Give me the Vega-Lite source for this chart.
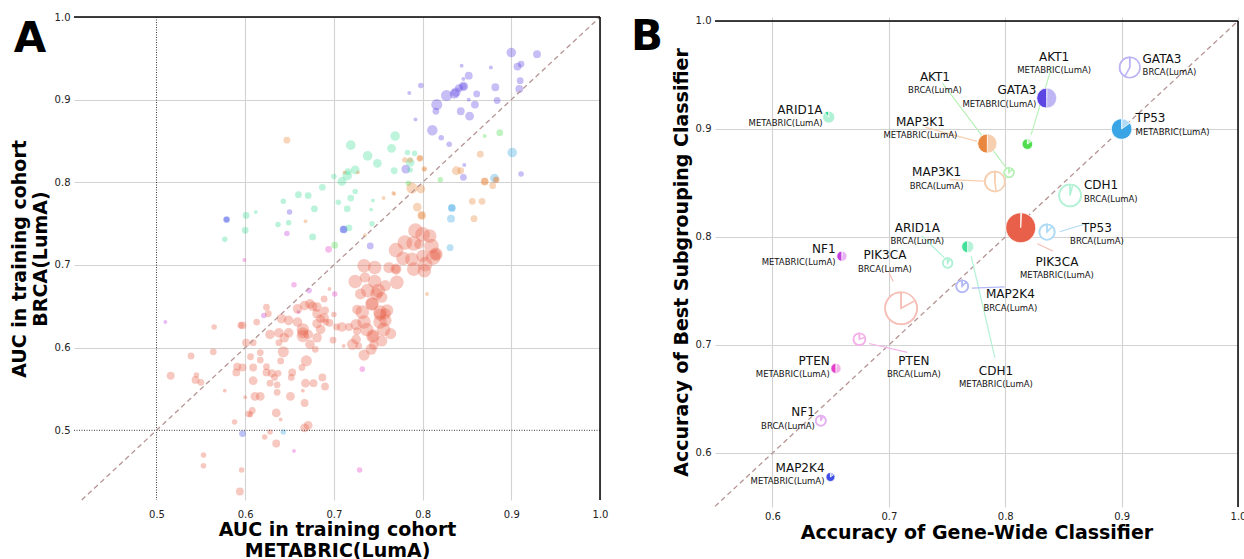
{
  "$schema": "https://vega.github.io/schema/vega-lite/v6.json",
  "padding": {"left": 10, "top": 12, "right": 0, "bottom": 0},
  "spacing": 22,
  "config": {
    "view": {"stroke": null},
    "font": "DejaVu Sans",
    "text": {"font": "DejaVu Sans"},
    "axis": {"labelFont": "DejaVu Sans", "labelFontSize": 10, "labelColor": "#222", "titleFont": "DejaVu Sans", "titleFontSize": 19, "titleFontWeight": "bold", "titleColor": "#000", "ticks": false, "domain": false, "gridColor": "#d2d2d2", "gridWidth": 1.1, "labelFlush": false, "titleLineHeight": 21}
  },
  "datasets": {
    "auc": [
      {"g":"GATA3","x":0.900,"y":0.957,"w":6},{"g":"GATA3","x":0.929,"y":0.955,"w":4},{"g":"GATA3","x":0.907,"y":0.940,"w":4},{"g":"GATA3","x":0.911,"y":0.943,"w":3},{"g":"GATA3","x":0.877,"y":0.939,"w":1},{"g":"GATA3","x":0.844,"y":0.941,"w":1},{"g":"GATA3","x":0.910,"y":0.923,"w":3},{"g":"GATA3","x":0.852,"y":0.929,"w":4},{"g":"GATA3","x":0.846,"y":0.925,"w":1},{"g":"GATA3","x":0.846,"y":0.916,"w":6},{"g":"GATA3","x":0.846,"y":0.916,"w":3},{"g":"GATA3","x":0.841,"y":0.914,"w":4},{"g":"GATA3","x":0.8375,"y":0.909,"w":6},{"g":"GATA3","x":0.827,"y":0.905,"w":8},{"g":"GATA3","x":0.836,"y":0.907,"w":6},{"g":"GATA3","x":0.798,"y":0.917,"w":2},{"g":"GATA3","x":0.785,"y":0.908,"w":1},{"g":"GATA3","x":0.882,"y":0.915,"w":4},{"g":"GATA3","x":0.861,"y":0.907,"w":3},{"g":"GATA3","x":0.909,"y":0.913,"w":4},{"g":"GATA3","x":0.884,"y":0.899,"w":3},{"g":"GATA3","x":0.852,"y":0.900,"w":1},{"g":"GATA3","x":0.816,"y":0.894,"w":8},{"g":"GATA3","x":0.859,"y":0.894,"w":4},{"g":"GATA3","x":0.815,"y":0.886,"w":3},{"g":"GATA3","x":0.843,"y":0.886,"w":4},{"g":"GATA3","x":0.853,"y":0.880,"w":5},{"g":"GATA3","x":0.792,"y":0.876,"w":1},{"g":"GATA3","x":0.811,"y":0.863,"w":7},{"g":"GATA3","x":0.821,"y":0.854,"w":2},{"g":"GATA3","x":0.830,"y":0.846,"w":2},{"g":"GATA3","x":0.781,"y":0.816,"w":5},{"g":"GATA3","x":0.847,"y":0.821,"w":1},{"g":"GATA3","x":0.846,"y":0.806,"w":3},{"g":"GATA3","x":0.911,"y":0.810,"w":2},{"g":"GATA3","x":0.741,"y":0.723,"w":3},{"g":"GATA3","x":0.650,"y":0.764,"w":2},
      {"g":"MAP2K4","x":0.579,"y":0.755,"w":3},{"g":"MAP2K4","x":0.579,"y":0.755,"w":2},{"g":"MAP2K4","x":0.711,"y":0.743,"w":4},{"g":"MAP2K4","x":0.711,"y":0.743,"w":3},{"g":"MAP2K4","x":0.597,"y":0.496,"w":3},
      {"g":"TP53","x":0.901,"y":0.836,"w":6},{"g":"TP53","x":0.881,"y":0.805,"w":5},{"g":"TP53","x":0.833,"y":0.769,"w":4},{"g":"TP53","x":0.833,"y":0.769,"w":3},{"g":"TP53","x":0.832,"y":0.756,"w":4},{"g":"TP53","x":0.831,"y":0.721,"w":3},{"g":"TP53","x":0.643,"y":0.498,"w":2},
      {"g":"CDH1","x":0.769,"y":0.856,"w":6},{"g":"CDH1","x":0.719,"y":0.845,"w":6},{"g":"CDH1","x":0.765,"y":0.841,"w":5},{"g":"CDH1","x":0.738,"y":0.832,"w":6},{"g":"CDH1","x":0.749,"y":0.823,"w":5},{"g":"CDH1","x":0.791,"y":0.835,"w":2},{"g":"CDH1","x":0.786,"y":0.824,"w":5},{"g":"CDH1","x":0.724,"y":0.815,"w":5},{"g":"CDH1","x":0.716,"y":0.813,"w":3},{"g":"CDH1","x":0.715,"y":0.808,"w":6},{"g":"CDH1","x":0.700,"y":0.807,"w":2},{"g":"CDH1","x":0.768,"y":0.814,"w":3},{"g":"CDH1","x":0.709,"y":0.801,"w":5},{"g":"CDH1","x":0.687,"y":0.794,"w":3},{"g":"CDH1","x":0.705,"y":0.776,"w":2},{"g":"CDH1","x":0.724,"y":0.789,"w":2},{"g":"CDH1","x":0.719,"y":0.781,"w":3},{"g":"CDH1","x":0.744,"y":0.778,"w":1},{"g":"CDH1","x":0.715,"y":0.768,"w":3},{"g":"CDH1","x":0.742,"y":0.767,"w":1},{"g":"CDH1","x":0.743,"y":0.750,"w":2},{"g":"CDH1","x":0.717,"y":0.745,"w":3},{"g":"CDH1","x":0.783,"y":0.836,"w":2},{"g":"CDH1","x":0.786,"y":0.815,"w":2},
      {"g":"ARID1A","x":0.660,"y":0.785,"w":3},{"g":"ARID1A","x":0.671,"y":0.784,"w":3},{"g":"ARID1A","x":0.643,"y":0.777,"w":2},{"g":"ARID1A","x":0.678,"y":0.768,"w":3},{"g":"ARID1A","x":0.601,"y":0.760,"w":3},{"g":"ARID1A","x":0.612,"y":0.764,"w":1},{"g":"ARID1A","x":0.637,"y":0.749,"w":2},{"g":"ARID1A","x":0.649,"y":0.751,"w":2},{"g":"ARID1A","x":0.600,"y":0.742,"w":3},{"g":"ARID1A","x":0.676,"y":0.734,"w":3},{"g":"ARID1A","x":0.577,"y":0.731,"w":2},
      {"g":"AKT1","x":0.887,"y":0.860,"w":3},{"g":"AKT1","x":0.870,"y":0.856,"w":1},{"g":"AKT1","x":0.820,"y":0.803,"w":2},{"g":"AKT1","x":0.701,"y":0.724,"w":3},{"g":"AKT1","x":0.784,"y":0.799,"w":2},
      {"g":"MAP3K1","x":0.647,"y":0.851,"w":3},{"g":"MAP3K1","x":0.797,"y":0.829,"w":3},{"g":"MAP3K1","x":0.797,"y":0.829,"w":2},{"g":"MAP3K1","x":0.802,"y":0.816,"w":2},{"g":"MAP3K1","x":0.802,"y":0.816,"w":1},{"g":"MAP3K1","x":0.712,"y":0.812,"w":1},{"g":"MAP3K1","x":0.727,"y":0.812,"w":1},{"g":"MAP3K1","x":0.780,"y":0.827,"w":2},{"g":"MAP3K1","x":0.786,"y":0.827,"w":2},{"g":"MAP3K1","x":0.788,"y":0.793,"w":8},{"g":"MAP3K1","x":0.798,"y":0.792,"w":5},{"g":"MAP3K1","x":0.767,"y":0.787,"w":1},{"g":"MAP3K1","x":0.756,"y":0.781,"w":1},{"g":"MAP3K1","x":0.794,"y":0.770,"w":5},{"g":"MAP3K1","x":0.799,"y":0.760,"w":5},{"g":"MAP3K1","x":0.799,"y":0.760,"w":3},{"g":"MAP3K1","x":0.865,"y":0.834,"w":3},{"g":"MAP3K1","x":0.838,"y":0.814,"w":5},{"g":"MAP3K1","x":0.843,"y":0.814,"w":3},{"g":"MAP3K1","x":0.870,"y":0.801,"w":4},{"g":"MAP3K1","x":0.870,"y":0.801,"w":3},{"g":"MAP3K1","x":0.883,"y":0.803,"w":3},{"g":"MAP3K1","x":0.883,"y":0.803,"w":2},{"g":"MAP3K1","x":0.879,"y":0.796,"w":3},{"g":"MAP3K1","x":0.856,"y":0.777,"w":3},{"g":"MAP3K1","x":0.867,"y":0.777,"w":3},{"g":"MAP3K1","x":0.858,"y":0.756,"w":3},{"g":"MAP3K1","x":0.668,"y":0.753,"w":1},{"g":"MAP3K1","x":0.735,"y":0.736,"w":1},{"g":"MAP3K1","x":0.805,"y":0.665,"w":1},{"g":"MAP3K1","x":0.768,"y":0.786,"w":1},
      {"g":"PTEN","x":0.694,"y":0.719,"w":3},{"g":"PTEN","x":0.599,"y":0.706,"w":1},{"g":"PTEN","x":0.655,"y":0.676,"w":2},{"g":"PTEN","x":0.701,"y":0.665,"w":2},{"g":"PTEN","x":0.732,"y":0.574,"w":2},{"g":"PTEN","x":0.655,"y":0.475,"w":1},{"g":"PTEN","x":0.729,"y":0.452,"w":2},
      {"g":"NF1","x":0.647,"y":0.738,"w":2},{"g":"NF1","x":0.510,"y":0.631,"w":1},{"g":"NF1","x":0.660,"y":0.643,"w":1},{"g":"NF1","x":0.672,"y":0.669,"w":2},{"g":"NF1","x":0.621,"y":0.639,"w":2},
      {"g":"PIK3CA","x":0.792,"y":0.7415,"w":14},{"g":"PIK3CA","x":0.800,"y":0.737,"w":14},{"g":"PIK3CA","x":0.808,"y":0.735,"w":12},{"g":"PIK3CA","x":0.780,"y":0.727,"w":14},{"g":"PIK3CA","x":0.790,"y":0.726,"w":14},{"g":"PIK3CA","x":0.810,"y":0.723,"w":14},{"g":"PIK3CA","x":0.815,"y":0.713,"w":12},{"g":"PIK3CA","x":0.815,"y":0.713,"w":8},{"g":"PIK3CA","x":0.812,"y":0.709,"w":14},{"g":"PIK3CA","x":0.770,"y":0.718,"w":14},{"g":"PIK3CA","x":0.778,"y":0.708,"w":12},{"g":"PIK3CA","x":0.788,"y":0.707,"w":12},{"g":"PIK3CA","x":0.803,"y":0.701,"w":14},{"g":"PIK3CA","x":0.800,"y":0.711,"w":10},{"g":"PIK3CA","x":0.796,"y":0.725,"w":6},{"g":"PIK3CA","x":0.734,"y":0.699,"w":12},{"g":"PIK3CA","x":0.746,"y":0.697,"w":12},{"g":"PIK3CA","x":0.762,"y":0.697,"w":8},{"g":"PIK3CA","x":0.770,"y":0.695,"w":8},{"g":"PIK3CA","x":0.770,"y":0.695,"w":5},{"g":"PIK3CA","x":0.790,"y":0.695,"w":12},{"g":"PIK3CA","x":0.802,"y":0.693,"w":12},{"g":"PIK3CA","x":0.724,"y":0.680,"w":12},{"g":"PIK3CA","x":0.735,"y":0.685,"w":7},{"g":"PIK3CA","x":0.746,"y":0.680,"w":12},{"g":"PIK3CA","x":0.758,"y":0.675,"w":8},{"g":"PIK3CA","x":0.771,"y":0.679,"w":12},{"g":"PIK3CA","x":0.738,"y":0.669,"w":12},{"g":"PIK3CA","x":0.750,"y":0.669,"w":12},{"g":"PIK3CA","x":0.730,"y":0.665,"w":8},{"g":"PIK3CA","x":0.743,"y":0.653,"w":12},{"g":"PIK3CA","x":0.743,"y":0.653,"w":10},{"g":"PIK3CA","x":0.754,"y":0.661,"w":8},{"g":"PIK3CA","x":0.732,"y":0.643,"w":12},{"g":"PIK3CA","x":0.752,"y":0.643,"w":12},{"g":"PIK3CA","x":0.752,"y":0.640,"w":10},{"g":"PIK3CA","x":0.758,"y":0.641,"w":8},{"g":"PIK3CA","x":0.734,"y":0.631,"w":12},{"g":"PIK3CA","x":0.752,"y":0.631,"w":12},{"g":"PIK3CA","x":0.737,"y":0.622,"w":12},{"g":"PIK3CA","x":0.756,"y":0.622,"w":12},{"g":"PIK3CA","x":0.764,"y":0.617,"w":8},{"g":"PIK3CA","x":0.744,"y":0.614,"w":12},{"g":"PIK3CA","x":0.744,"y":0.614,"w":8},{"g":"PIK3CA","x":0.754,"y":0.608,"w":8},{"g":"PIK3CA","x":0.742,"y":0.598,"w":8},{"g":"PIK3CA","x":0.734,"y":0.591,"w":8},{"g":"PIK3CA","x":0.721,"y":0.604,"w":8},{"g":"PIK3CA","x":0.728,"y":0.602,"w":3},{"g":"PIK3CA","x":0.711,"y":0.602,"w":1},{"g":"PIK3CA","x":0.709,"y":0.625,"w":6},{"g":"PIK3CA","x":0.703,"y":0.625,"w":3},{"g":"PIK3CA","x":0.699,"y":0.609,"w":3},{"g":"PIK3CA","x":0.695,"y":0.671,"w":1},{"g":"PIK3CA","x":0.689,"y":0.659,"w":3},{"g":"PIK3CA","x":0.681,"y":0.649,"w":6},{"g":"PIK3CA","x":0.681,"y":0.641,"w":6},{"g":"PIK3CA","x":0.689,"y":0.636,"w":6},{"g":"PIK3CA","x":0.691,"y":0.631,"w":3},{"g":"PIK3CA","x":0.681,"y":0.629,"w":6},{"g":"PIK3CA","x":0.685,"y":0.622,"w":6},{"g":"PIK3CA","x":0.673,"y":0.653,"w":6},{"g":"PIK3CA","x":0.667,"y":0.651,"w":6},{"g":"PIK3CA","x":0.659,"y":0.647,"w":6},{"g":"PIK3CA","x":0.659,"y":0.631,"w":6},{"g":"PIK3CA","x":0.665,"y":0.622,"w":10},{"g":"PIK3CA","x":0.665,"y":0.618,"w":8},{"g":"PIK3CA","x":0.665,"y":0.614,"w":10},{"g":"PIK3CA","x":0.671,"y":0.616,"w":6},{"g":"PIK3CA","x":0.681,"y":0.612,"w":6},{"g":"PIK3CA","x":0.673,"y":0.604,"w":6},{"g":"PIK3CA","x":0.679,"y":0.598,"w":3},{"g":"PIK3CA","x":0.649,"y":0.618,"w":6},{"g":"PIK3CA","x":0.649,"y":0.633,"w":6},{"g":"PIK3CA","x":0.641,"y":0.635,"w":6},{"g":"PIK3CA","x":0.638,"y":0.618,"w":6},{"g":"PIK3CA","x":0.644,"y":0.612,"w":6},{"g":"PIK3CA","x":0.638,"y":0.606,"w":3},{"g":"PIK3CA","x":0.628,"y":0.616,"w":6},{"g":"PIK3CA","x":0.624,"y":0.649,"w":3},{"g":"PIK3CA","x":0.626,"y":0.641,"w":3},{"g":"PIK3CA","x":0.613,"y":0.631,"w":3},{"g":"PIK3CA","x":0.595,"y":0.627,"w":3},{"g":"PIK3CA","x":0.597,"y":0.627,"w":4},{"g":"PIK3CA","x":0.565,"y":0.625,"w":2},{"g":"PIK3CA","x":0.601,"y":0.606,"w":4},{"g":"PIK3CA","x":0.609,"y":0.606,"w":3},{"g":"PIK3CA","x":0.617,"y":0.594,"w":3},{"g":"PIK3CA","x":0.643,"y":0.595,"w":8},{"g":"PIK3CA","x":0.617,"y":0.585,"w":3},{"g":"PIK3CA","x":0.606,"y":0.589,"w":3},{"g":"PIK3CA","x":0.640,"y":0.584,"w":3},{"g":"PIK3CA","x":0.669,"y":0.584,"w":8},{"g":"PIK3CA","x":0.664,"y":0.576,"w":3},{"g":"PIK3CA","x":0.591,"y":0.577,"w":4},{"g":"PIK3CA","x":0.597,"y":0.576,"w":4},{"g":"PIK3CA","x":0.609,"y":0.576,"w":4},{"g":"PIK3CA","x":0.624,"y":0.577,"w":3},{"g":"PIK3CA","x":0.590,"y":0.570,"w":4},{"g":"PIK3CA","x":0.624,"y":0.570,"w":4},{"g":"PIK3CA","x":0.630,"y":0.569,"w":4},{"g":"PIK3CA","x":0.637,"y":0.569,"w":3},{"g":"PIK3CA","x":0.633,"y":0.564,"w":3},{"g":"PIK3CA","x":0.653,"y":0.570,"w":4},{"g":"PIK3CA","x":0.652,"y":0.564,"w":3},{"g":"PIK3CA","x":0.609,"y":0.560,"w":5},{"g":"PIK3CA","x":0.636,"y":0.555,"w":3},{"g":"PIK3CA","x":0.628,"y":0.557,"w":3},{"g":"PIK3CA","x":0.668,"y":0.557,"w":5},{"g":"PIK3CA","x":0.677,"y":0.557,"w":4},{"g":"PIK3CA","x":0.687,"y":0.564,"w":4},{"g":"PIK3CA","x":0.690,"y":0.553,"w":4},{"g":"PIK3CA","x":0.665,"y":0.548,"w":1},{"g":"PIK3CA","x":0.636,"y":0.546,"w":3},{"g":"PIK3CA","x":0.651,"y":0.541,"w":5},{"g":"PIK3CA","x":0.611,"y":0.541,"w":5},{"g":"PIK3CA","x":0.617,"y":0.541,"w":5},{"g":"PIK3CA","x":0.600,"y":0.540,"w":1},{"g":"PIK3CA","x":0.577,"y":0.548,"w":1},{"g":"PIK3CA","x":0.667,"y":0.533,"w":4},{"g":"PIK3CA","x":0.608,"y":0.524,"w":3},{"g":"PIK3CA","x":0.604,"y":0.520,"w":3},{"g":"PIK3CA","x":0.606,"y":0.519,"w":2},{"g":"PIK3CA","x":0.635,"y":0.521,"w":5},{"g":"PIK3CA","x":0.640,"y":0.513,"w":1},{"g":"PIK3CA","x":0.588,"y":0.510,"w":2},{"g":"PIK3CA","x":0.671,"y":0.506,"w":5},{"g":"PIK3CA","x":0.667,"y":0.503,"w":5},{"g":"PIK3CA","x":0.628,"y":0.498,"w":2},{"g":"PIK3CA","x":0.622,"y":0.492,"w":2},{"g":"PIK3CA","x":0.635,"y":0.484,"w":4},{"g":"PIK3CA","x":0.553,"y":0.470,"w":2},{"g":"PIK3CA","x":0.553,"y":0.457,"w":2},{"g":"PIK3CA","x":0.596,"y":0.452,"w":2},{"g":"PIK3CA","x":0.594,"y":0.426,"w":4},{"g":"PIK3CA","x":0.516,"y":0.566,"w":4},{"g":"PIK3CA","x":0.539,"y":0.590,"w":3},{"g":"PIK3CA","x":0.545,"y":0.567,"w":2},{"g":"PIK3CA","x":0.544,"y":0.561,"w":4},{"g":"PIK3CA","x":0.550,"y":0.558,"w":3},{"g":"PIK3CA","x":0.564,"y":0.595,"w":3},{"g":"PIK3CA","x":0.717,"y":0.625,"w":4},{"g":"PIK3CA","x":0.726,"y":0.620,"w":4},{"g":"PIK3CA","x":0.695,"y":0.630,"w":4},{"g":"PIK3CA","x":0.700,"y":0.640,"w":2},{"g":"PIK3CA","x":0.676,"y":0.650,"w":6},{"g":"PIK3CA","x":0.690,"y":0.645,"w":4},{"g":"PIK3CA","x":0.685,"y":0.635,"w":5},{"g":"PIK3CA","x":0.758,"y":0.633,"w":10},{"g":"PIK3CA","x":0.760,"y":0.645,"w":10},{"g":"PIK3CA","x":0.748,"y":0.665,"w":10},{"g":"PIK3CA","x":0.725,"y":0.628,"w":8},{"g":"PIK3CA","x":0.726,"y":0.646,"w":6},{"g":"PIK3CA","x":0.745,"y":0.603,"w":6},{"g":"PIK3CA","x":0.725,"y":0.610,"w":6}
    ],
    "best": [
      {"g":"GATA3","c":"BRCA(LumA)","x":0.907,"y":0.957,"n":41,"s":0.58,"lx":0.918,"ly":0.965,"side":"left"},
      {"g":"AKT1","c":"METABRIC(LumA)","x":0.819,"y":0.886,"n":11,"s":0.15,"lx":0.842,"ly":0.967,"side":"center"},
      {"g":"GATA3","c":"METABRIC(LumA)","x":0.8356,"y":0.9286,"n":39,"s":0.5,"lx":0.8267,"ly":0.9357,"side":"right"},
      {"g":"TP53","c":"METABRIC(LumA)","x":0.9,"y":0.9,"n":41,"s":0.15,"lx":0.912,"ly":0.910,"side":"left"},
      {"g":"AKT1","c":"BRCA(LumA)","x":0.8033,"y":0.8597,"n":9,"s":0.12,"lx":0.7396,"ly":0.9486,"side":"center"},
      {"g":"ARID1A","c":"METABRIC(LumA)","x":0.6483,"y":0.911,"n":14,"s":0.88,"lx":0.643,"ly":0.918,"side":"right"},
      {"g":"MAP3K1","c":"METABRIC(LumA)","x":0.7846,"y":0.8865,"n":36,"s":0.5,"lx":0.7271,"ly":0.9068,"side":"center"},
      {"g":"MAP3K1","c":"BRCA(LumA)","x":0.7911,"y":0.8514,"n":39,"s":0.48,"lx":0.741,"ly":0.86,"side":"center"},
      {"g":"CDH1","c":"BRCA(LumA)","x":0.8557,"y":0.8385,"n":47,"s":0.04,"lx":0.8676,"ly":0.8477,"side":"left"},
      {"g":"PIK3CA","c":"METABRIC(LumA)","x":0.8133,"y":0.8086,"n":88,"s":0.01,"lx":0.8444,"ly":0.7772,"side":"center"},
      {"g":"TP53","c":"BRCA(LumA)","x":0.8359,"y":0.8046,"n":23,"s":0.12,"lx":0.8788,"ly":0.8086,"side":"center"},
      {"g":"ARID1A","c":"BRCA(LumA)","x":0.7505,"y":0.776,"n":9,"s":0.1,"lx":0.7244,"ly":0.8086,"side":"center"},
      {"g":"CDH1","c":"METABRIC(LumA)","x":0.7677,"y":0.791,"n":14,"s":0.5,"lx":0.792,"ly":0.6761,"side":"center"},
      {"g":"NF1","c":"METABRIC(LumA)","x":0.6596,"y":0.7822,"n":10,"s":0.5,"lx":0.6542,"ly":0.789,"side":"right"},
      {"g":"PIK3CA","c":"BRCA(LumA)","x":0.7105,"y":0.734,"n":100,"s":0.17,"lx":0.6966,"ly":0.783,"side":"center"},
      {"g":"MAP2K4","c":"BRCA(LumA)","x":0.763,"y":0.7544,"n":14,"s":0.12,"lx":0.8044,"ly":0.747,"side":"center"},
      {"g":"PTEN","c":"BRCA(LumA)","x":0.6747,"y":0.7054,"n":14,"s":0.2,"lx":0.7215,"ly":0.6854,"side":"center"},
      {"g":"PTEN","c":"METABRIC(LumA)","x":0.6545,"y":0.6783,"n":10,"s":0.5,"lx":0.6492,"ly":0.6854,"side":"right"},
      {"g":"NF1","c":"BRCA(LumA)","x":0.6415,"y":0.6299,"n":10,"s":0.08,"lx":0.6364,"ly":0.6379,"side":"right"},
      {"g":"MAP2K4","c":"METABRIC(LumA)","x":0.6498,"y":0.5778,"n":8,"s":0.15,"lx":0.6447,"ly":0.5864,"side":"right"}
    ],
    "links": [
      {"g":"AKT1","x1":0.840,"y1":0.9578,"x2":0.8222,"y2":0.8948},
      {"g":"AKT1","x1":0.746,"y1":0.9425,"x2":0.8009,"y2":0.864},
      {"g":"MAP3K1","x1":0.7313,"y1":0.9015,"x2":0.7758,"y2":0.8886},
      {"g":"MAP3K1","x1":0.752,"y1":0.8532,"x2":0.7816,"y2":0.8517},
      {"g":"PIK3CA","x1":0.8409,"y1":0.7871,"x2":0.8276,"y2":0.7938},
      {"g":"TP53","x1":0.872,"y1":0.8132,"x2":0.8468,"y2":0.8049},
      {"g":"ARID1A","x1":0.7283,"y1":0.8009,"x2":0.7476,"y2":0.7809},
      {"g":"CDH1","x1":0.7911,"y1":0.6884,"x2":0.7707,"y2":0.7824},
      {"g":"PIK3CA","x1":0.7001,"y1":0.767,"x2":0.7037,"y2":0.7587},
      {"g":"MAP2K4","x1":0.7994,"y1":0.7538,"x2":0.7713,"y2":0.7526},
      {"g":"PTEN","x1":0.7159,"y1":0.6931,"x2":0.683,"y2":0.7014}
    ]
  },
  "hconcat": [
    {
      "width": 526,
      "height": 483,
      "layer": [
        {
          "data": {"name": "auc"},
          "mark": {"type": "circle", "opacity": 0.35},
          "encoding": {
            "x": {"field": "x", "type": "quantitative", "scale": {"domain": [0.407, 1.0], "nice": false, "zero": false},
              "axis": {"values": [0.5, 0.6, 0.7, 0.8, 0.9, 1.0], "format": ".1f", "labelPadding": 9, "titlePadding": 1, "title": ["AUC in training cohort", "METABRIC(LumA)"], "gridOpacity": {"condition": {"test": "datum.value === 0.5", "value": 0}, "value": 1}}},
            "y": {"field": "y", "type": "quantitative", "scale": {"domain": [0.4157, 1.0], "nice": false, "zero": false},
              "axis": {"values": [0.5, 0.6, 0.7, 0.8, 0.9, 1.0], "format": ".1f", "labelPadding": 4, "titlePadding": 4, "title": ["AUC in training cohort", "BRCA(LumA)"], "gridOpacity": {"condition": {"test": "datum.value === 0.5", "value": 0}, "value": 1}}},
            "size": {"field": "w", "type": "quantitative", "scale": {"domain": [0, 14], "range": [0, 215]}, "legend": null},
            "color": {"field": "g", "type": "nominal", "legend": null,
              "scale": {"domain": ["PIK3CA","GATA3","TP53","MAP3K1","AKT1","ARID1A","CDH1","NF1","PTEN","MAP2K4"], "range": ["#E9604A","#5B45E3","#3AA5E5","#E8873D","#4DDD4D","#3ADB95","#45DF9C","#C23FE0","#E33FC8","#3F4FE6"]}}
          }
        },
        {"data": {"values": [{}]}, "mark": {"type": "rule", "color": "#222", "strokeWidth": 0.9, "strokeDash": [1, 1.5]}, "encoding": {"x": {"datum": 0.5, "type": "quantitative"}}},
        {"data": {"values": [{}]}, "mark": {"type": "rule", "color": "#222", "strokeWidth": 0.9, "strokeDash": [1, 1.5]}, "encoding": {"y": {"datum": 0.5, "type": "quantitative"}}},
        {"data": {"values": [{}]}, "mark": {"type": "rule", "color": "#B59494", "strokeWidth": 1.3, "strokeDash": [5, 3.5]}, "encoding": {"x": {"datum": 0.4157, "type": "quantitative"}, "y": {"datum": 0.4157, "type": "quantitative"}, "x2": {"datum": 1.0}, "y2": {"datum": 1.0}}},
        {"data": {"values": [{}]}, "mark": {"type": "rule", "color": "#000", "strokeWidth": 1.5}, "encoding": {"y": {"datum": 1.0, "type": "quantitative"}}},
        {"data": {"values": [{}]}, "mark": {"type": "rule", "color": "#000", "strokeWidth": 1.5}, "encoding": {"x": {"datum": 1.0, "type": "quantitative"}}},
        {"data": {"values": [{}]}, "mark": {"type": "text", "text": "A", "fontSize": 42, "fontWeight": "bold", "align": "left", "baseline": "middle", "font": "DejaVu Sans", "color": "#000"}, "encoding": {"x": {"datum": 0.339, "type": "quantitative"}, "y": {"datum": 0.973, "type": "quantitative"}}}
      ]
    },
    {
      "width": 523,
      "height": 490,
      "layer": [
        {
          "data": {"name": "best"},
          "mark": {"type": "point", "opacity": 0},
          "encoding": {
            "x": {"field": "x", "type": "quantitative", "scale": {"domain": [0.5506, 1.0], "nice": false, "zero": false},
              "axis": {"values": [0.6, 0.7, 0.8, 0.9, 1.0], "format": ".1f", "labelPadding": 4, "titlePadding": 2, "title": "Accuracy of Gene-Wide Classifier"}},
            "y": {"field": "y", "type": "quantitative", "scale": {"domain": [0.55, 1.0037], "nice": false, "zero": false},
              "axis": {"values": [0.6, 0.7, 0.8, 0.9, 1.0], "format": ".1f", "labelPadding": 4, "titlePadding": 4, "title": "Accuracy of Best Subgrouping Classifier"}}
          }
        },
        {"data": {"values": [{}]}, "mark": {"type": "rule", "color": "#B59494", "strokeWidth": 1.3, "strokeDash": [5, 3.5]}, "encoding": {"x": {"datum": 0.5506, "type": "quantitative"}, "y": {"datum": 0.5506, "type": "quantitative"}, "x2": {"datum": 1.0}, "y2": {"datum": 1.0}}},
        {"data": {"values": [{}]}, "mark": {"type": "rule", "color": "#000", "strokeWidth": 1.5}, "encoding": {"y": {"datum": 1.0, "type": "quantitative"}}},
        {"data": {"values": [{}]}, "mark": {"type": "rule", "color": "#000", "strokeWidth": 1.5}, "encoding": {"x": {"datum": 1.0, "type": "quantitative"}, "y": {"datum": 0.55, "type": "quantitative"}, "y2": {"datum": 1.0}}},
        {
          "data": {"name": "links"},
          "mark": {"type": "rule", "strokeWidth": 1.2},
          "encoding": {
            "x": {"field": "x1", "type": "quantitative"}, "y": {"field": "y1", "type": "quantitative"},
            "x2": {"field": "x2"}, "y2": {"field": "y2"},
            "stroke": {"field": "g", "type": "nominal", "legend": null,
              "scale": {"domain": ["PIK3CA","GATA3","TP53","MAP3K1","AKT1","ARID1A","CDH1","NF1","PTEN","MAP2K4"], "range": ["#F6BFB7","#BDB5F4","#B0DBF5","#F6CFB1","#B8F1B8","#B0F1D5","#B5F2D7","#E7B2F3","#F4B2E9","#B2B9F5"]}}
          }
        },
        {
          "data": {"name": "best"},
          "transform": [{"filter": "datum.c === 'METABRIC(LumA)'"}],
          "mark": {"type": "arc", "theta": 0, "theta2": 6.283185, "stroke": "white", "strokeWidth": 0.6},
          "encoding": {
            "x": {"field": "x", "type": "quantitative"}, "y": {"field": "y", "type": "quantitative"},
            "radius": {"field": "n", "type": "quantitative", "stack": null, "scale": {"type": "sqrt", "domain": [0, 100], "range": [0, 16]}},
            "fill": {"field": "g", "type": "nominal", "legend": null,
              "scale": {"domain": ["PIK3CA","GATA3","TP53","MAP3K1","AKT1","ARID1A","CDH1","NF1","PTEN","MAP2K4"], "range": ["#F6BFB7","#BDB5F4","#B0DBF5","#F6CFB1","#B8F1B8","#B0F1D5","#B5F2D7","#E7B2F3","#F4B2E9","#B2B9F5"]}}
          }
        },
        {
          "data": {"name": "best"},
          "transform": [{"filter": "datum.c === 'METABRIC(LumA)'"}],
          "mark": {"type": "arc", "stroke": "white", "strokeWidth": 0.8},
          "encoding": {
            "x": {"field": "x", "type": "quantitative"}, "y": {"field": "y", "type": "quantitative"},
            "theta": {"field": "s", "type": "quantitative", "stack": null, "scale": {"domain": [0, 1], "range": [0, 6.283185]}},
            "theta2": {"value": 6.283185},
            "radius": {"field": "n", "type": "quantitative", "stack": null, "scale": {"type": "sqrt", "domain": [0, 100], "range": [0, 16]}},
            "color": {"field": "g", "type": "nominal", "legend": null,
              "scale": {"domain": ["PIK3CA","GATA3","TP53","MAP3K1","AKT1","ARID1A","CDH1","NF1","PTEN","MAP2K4"], "range": ["#E9604A","#5B45E3","#3AA5E5","#E8873D","#4DDD4D","#3ADB95","#45DF9C","#C23FE0","#E33FC8","#3F4FE6"]}}
          }
        },
        {
          "data": {"name": "best"},
          "transform": [{"filter": "datum.c === 'BRCA(LumA)'"}],
          "mark": {"type": "arc", "theta": 0, "theta2": 6.283185, "fill": "white", "strokeWidth": 1.6},
          "encoding": {
            "x": {"field": "x", "type": "quantitative"}, "y": {"field": "y", "type": "quantitative"},
            "radius": {"field": "n", "type": "quantitative", "stack": null, "scale": {"type": "sqrt", "domain": [0, 100], "range": [0, 16]}},
            "stroke": {"field": "g", "type": "nominal", "legend": null,
              "scale": {"domain": ["PIK3CA","GATA3","TP53","MAP3K1","AKT1","ARID1A","CDH1","NF1","PTEN","MAP2K4"], "range": ["#F6BFB7","#BDB5F4","#B0DBF5","#F6CFB1","#B8F1B8","#B0F1D5","#B5F2D7","#E7B2F3","#F4B2E9","#B2B9F5"]}}
          }
        },
        {
          "data": {"name": "best"},
          "transform": [{"filter": "datum.c === 'BRCA(LumA)'"}],
          "mark": {"type": "arc", "fill": "transparent", "strokeWidth": 1.6},
          "encoding": {
            "x": {"field": "x", "type": "quantitative"}, "y": {"field": "y", "type": "quantitative"},
            "theta": {"field": "s", "type": "quantitative", "stack": null, "scale": {"domain": [0, 1], "range": [0, 6.283185]}},
            "theta2": {"value": 6.283185},
            "radius": {"field": "n", "type": "quantitative", "stack": null, "scale": {"type": "sqrt", "domain": [0, 100], "range": [0, 16]}},
            "stroke": {"field": "g", "type": "nominal", "legend": null,
              "scale": {"domain": ["PIK3CA","GATA3","TP53","MAP3K1","AKT1","ARID1A","CDH1","NF1","PTEN","MAP2K4"], "range": ["#F6BFB7","#BDB5F4","#B0DBF5","#F6CFB1","#B8F1B8","#B0F1D5","#B5F2D7","#E7B2F3","#F4B2E9","#B2B9F5"]}}
          }
        },
        {"data": {"name": "best"}, "transform": [{"filter": "datum.side === 'left'"}], "mark": {"type": "text", "fontSize": 12, "align": "left", "baseline": "middle", "color": "#111"}, "encoding": {"x": {"field": "lx", "type": "quantitative"}, "y": {"field": "ly", "type": "quantitative"}, "text": {"field": "g"}}},
        {"data": {"name": "best"}, "transform": [{"filter": "datum.side === 'left'"}], "mark": {"type": "text", "fontSize": 8.5, "dy": 13.5, "align": "left", "baseline": "middle", "color": "#111"}, "encoding": {"x": {"field": "lx", "type": "quantitative"}, "y": {"field": "ly", "type": "quantitative"}, "text": {"field": "c"}}},
        {"data": {"name": "best"}, "transform": [{"filter": "datum.side === 'center'"}], "mark": {"type": "text", "fontSize": 12, "align": "center", "baseline": "middle", "color": "#111"}, "encoding": {"x": {"field": "lx", "type": "quantitative"}, "y": {"field": "ly", "type": "quantitative"}, "text": {"field": "g"}}},
        {"data": {"name": "best"}, "transform": [{"filter": "datum.side === 'center'"}], "mark": {"type": "text", "fontSize": 8.5, "dy": 13.5, "align": "center", "baseline": "middle", "color": "#111"}, "encoding": {"x": {"field": "lx", "type": "quantitative"}, "y": {"field": "ly", "type": "quantitative"}, "text": {"field": "c"}}},
        {"data": {"name": "best"}, "transform": [{"filter": "datum.side === 'right'"}], "mark": {"type": "text", "fontSize": 12, "align": "right", "baseline": "middle", "color": "#111"}, "encoding": {"x": {"field": "lx", "type": "quantitative"}, "y": {"field": "ly", "type": "quantitative"}, "text": {"field": "g"}}},
        {"data": {"name": "best"}, "transform": [{"filter": "datum.side === 'right'"}], "mark": {"type": "text", "fontSize": 8.5, "dy": 13.5, "align": "right", "baseline": "middle", "color": "#111"}, "encoding": {"x": {"field": "lx", "type": "quantitative"}, "y": {"field": "ly", "type": "quantitative"}, "text": {"field": "c"}}},
        {"data": {"values": [{}]}, "mark": {"type": "text", "text": "B", "fontSize": 42, "fontWeight": "bold", "align": "left", "baseline": "middle", "font": "DejaVu Sans", "color": "#000"}, "encoding": {"x": {"datum": 0.4784, "type": "quantitative"}, "y": {"datum": 0.9852, "type": "quantitative"}}}
      ]
    }
  ]
}
